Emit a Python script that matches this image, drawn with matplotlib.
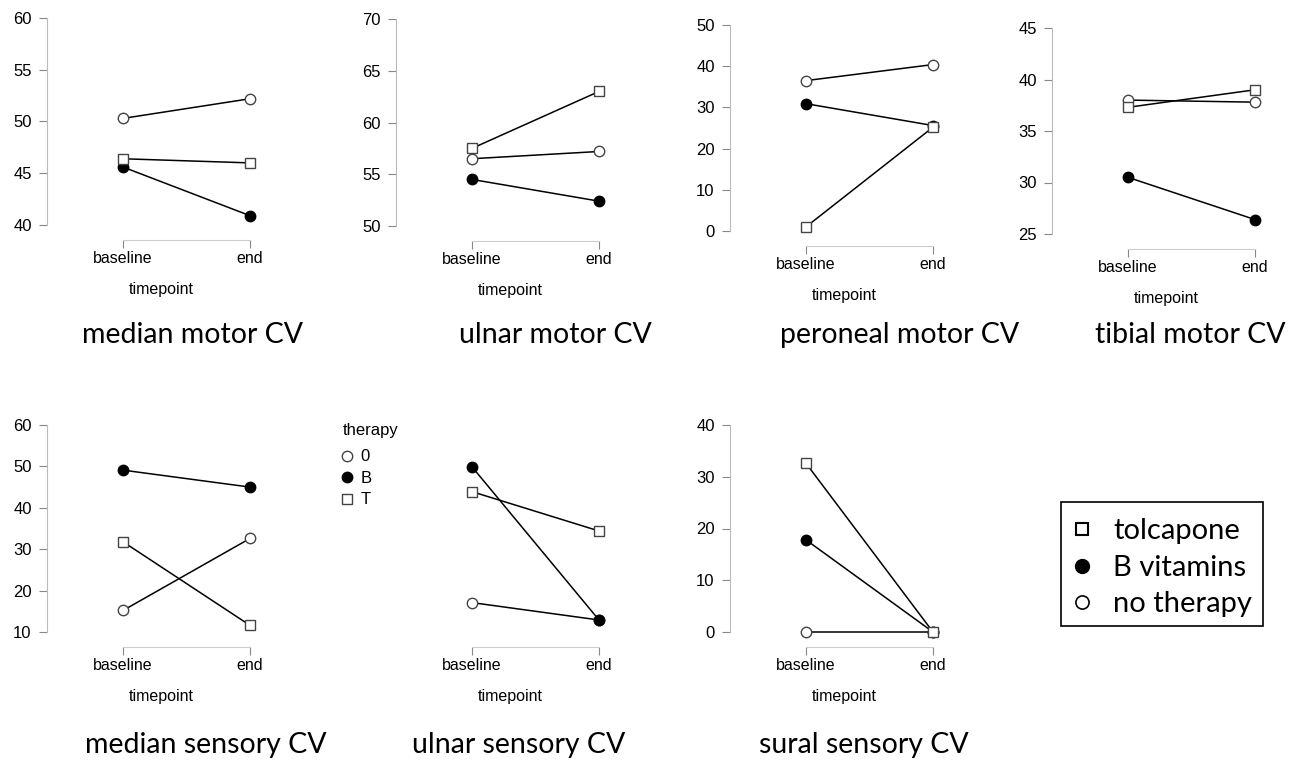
import matplotlib
matplotlib.use("Agg")
import matplotlib.pyplot as plt
from matplotlib.lines import Line2D
from matplotlib.patches import Rectangle
import numpy as np

W, H = 1299, 762

timepoints = ["baseline", "end"]
therapies = ["0", "B", "T"]

# values per panel: [no therapy (0), B vitamins (B), tolcapone (T)] x [baseline, end]
median_motor = [[50.3, 52.2], [45.6, 40.9], [46.4, 46.0]]
ulnar_motor = [[56.5, 57.2], [54.5, 52.4], [57.5, 63.0]]
peroneal_motor = [[36.5, 40.4], [30.9, 25.6], [1.0, 25.2]]
tibial_motor = [[38.0, 37.8], [30.5, 26.4], [37.3, 39.0]]
median_sensory = [[15.2, 32.6], [49.1, 45.0], [31.8, 11.6]]
ulnar_sensory = [[17.1, 12.9], [49.9, 12.9], [43.9, 34.4]]
sural_sensory = [[0.0, 0.0], [17.8, 0.0], [32.6, 0.0]]

titles = ["median motor CV", "ulnar motor CV", "peroneal motor CV", "tibial motor CV",
          "median sensory CV", "ulnar sensory CV", "sural sensory CV"]
panel_data = [median_motor, ulnar_motor, peroneal_motor, tibial_motor,
              median_sensory, ulnar_sensory, sural_sensory]
legend_labels = ["tolcapone", "B vitamins", "no therapy"]

# layout in pixels: y-axis x, top tick y, bottom tick y, ymin, ymax, step, show y axis
layout = [
    (47, 18, 225, 40, 60, 5, True),
    (396, 19, 226, 50, 70, 5, True),
    (730, 25, 231, 0, 50, 10, True),
    (1052, 28, 234, 25, 45, 5, True),
    (47, 425, 632, 10, 60, 10, True),
    (396, 425, 632, 10, 60, 10, False),
    (730, 425, 632, 0, 40, 10, True),
]
title_pos = [(192, 335), (555, 335), (900, 335), (1190, 335),
             (206, 745), (519, 745), (864, 745)]

marker_style = {
    "0": dict(marker="o", markersize=7.5, markerfacecolor="white", markeredgecolor="#444444"),
    "B": dict(marker="o", markersize=7.5, markerfacecolor="black", markeredgecolor="black"),
    "T": dict(marker="s", markersize=6.5, markerfacecolor="white", markeredgecolor="#444444"),
}

plt.rcParams["font.family"] = ["Liberation Sans", "DejaVu Sans"]
fig = plt.figure(figsize=(W / 100, H / 100), dpi=100)

tick_gap = 76     # px from y axis to baseline
x_step = 127      # px between baseline and end
x_left = -tick_gap / x_step
x_right = 1.2

for i, (data, (ax_x, top, bot, ymin, ymax, step, show_y)) in enumerate(zip(panel_data, layout)):
    width_px = (x_right - x_left) * x_step
    rect = [ax_x / W, 1 - bot / H, width_px / W, (bot - top) / H]
    ax = fig.add_axes(rect)
    ax.set_xlim(x_left, x_right)
    ax.set_ylim(ymin, ymax)
    ax.patch.set_alpha(0)
    xs = np.arange(len(timepoints))
    for k, th in enumerate(therapies):
        ax.plot(xs, data[k], color="black", lw=1.1, zorder=2, clip_on=False, **marker_style[th])

    for s in ["top", "right"]:
        ax.spines[s].set_visible(False)
    ax.spines["bottom"].set_position(("outward", 11))
    ax.spines["bottom"].set_bounds(0, 1)
    ax.spines["bottom"].set_color("#cccccc")
    ax.set_xticks(xs)
    ax.set_xticklabels(timepoints, fontsize=11.5)
    ax.tick_params(axis="x", length=6, color="#888888", pad=2)
    ax.set_xlabel("timepoint", fontsize=11.5, labelpad=11)
    if show_y:
        ax.spines["left"].set_bounds(ymin, ymax)
        ax.spines["left"].set_color("#bbbbbb")
        ax.set_yticks(np.arange(ymin, ymax + step / 2, step))
        ax.tick_params(axis="y", length=6, color="#888888", labelsize=12, pad=5)
    else:
        ax.spines["left"].set_visible(False)
        ax.set_yticks([])

    tx, ty = title_pos[i]
    fig.text(tx / W, 1 - ty / H, titles[i], ha="center", va="center",
             fontsize=20.5, family=["Lato", "DejaVu Sans"])

# small "therapy" legend
fig.text(343 / W, 1 - 430 / H, "therapy", ha="left", va="center", fontsize=12)
small_handles = [Line2D([], [], linestyle="none", **marker_style[t]) for t in therapies]
fig.legend(small_handles, therapies, loc="upper left",
           bbox_to_anchor=(338 / W, 1 - 446 / H), frameon=False, fontsize=12,
           handlelength=0.7, handletextpad=0.45, labelspacing=0.39,
           borderpad=0.2, borderaxespad=0)

# boxed legend
box = Rectangle((1061 / W, 1 - 626 / H), 202 / W, 124 / H, transform=fig.transFigure,
                facecolor="white", edgecolor="black", linewidth=1.2)
fig.patches.append(box)
big_handles = [
    Line2D([], [], linestyle="none", marker="s", markersize=8.5, markerfacecolor="white",
           markeredgecolor="black", markeredgewidth=1.5),
    Line2D([], [], linestyle="none", marker="o", markersize=10, markerfacecolor="black",
           markeredgecolor="black"),
    Line2D([], [], linestyle="none", marker="o", markersize=9.5, markerfacecolor="white",
           markeredgecolor="black", markeredgewidth=1.2),
]
leg = fig.legend(big_handles, legend_labels, loc="upper left",
                 bbox_to_anchor=(1061 / W, 1 - 509 / H), frameon=False,
                 prop={"family": ["Lato", "DejaVu Sans"], "size": 21},
                 handlelength=0.8, handletextpad=0.66, labelspacing=0.36, borderpad=0.32,
                 borderaxespad=0)

fig.savefig("out.png", dpi=100)
